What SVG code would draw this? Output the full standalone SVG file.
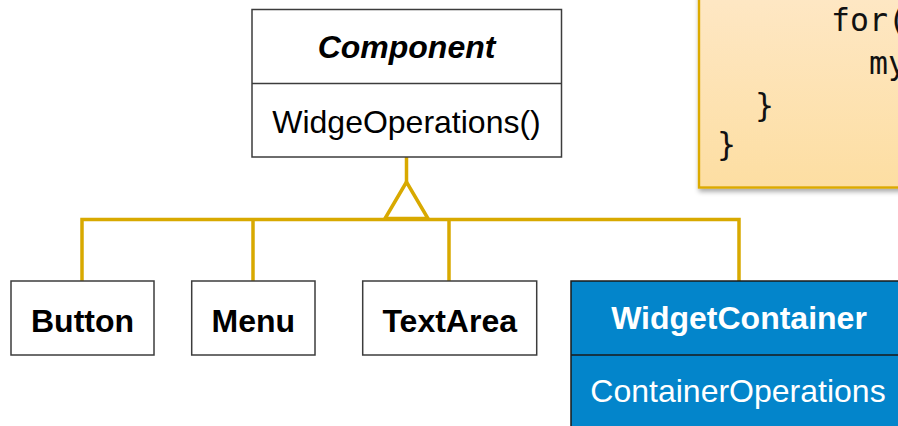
<svg xmlns="http://www.w3.org/2000/svg" width="898" height="426" viewBox="0 0 898 426">
  <style>
    .box { fill: #ffffff; stroke: #3c3c3c; stroke-width: 1.5; }
    .blue { fill: #0385cb; stroke: #1a1a1a; stroke-width: 1.5; }
    .lbl { font-family: "Liberation Sans", Arial, sans-serif; font-size: 32px; text-anchor: middle; fill: #000; }
    .b { font-weight: bold; }
    .w { fill: #ffffff; }
    .code { font-family: "DejaVu Sans Mono", monospace; font-size: 31.5px; fill: #111; }
    .conn { fill: none; stroke: #d8a900; stroke-width: 3.5; }
  </style>
  <defs>
    <linearGradient id="noteFill" x1="0" y1="0" x2="0" y2="1">
      <stop offset="0" stop-color="#fee8c7"/>
      <stop offset="1" stop-color="#fddea2"/>
    </linearGradient>
    <filter id="shadow" x="-10%" y="-10%" width="130%" height="140%">
      <feGaussianBlur in="SourceAlpha" stdDeviation="2.5"/>
      <feOffset dx="1" dy="3" result="b"/>
      <feComponentTransfer><feFuncA type="linear" slope="0.35"/></feComponentTransfer>
      <feMerge><feMergeNode/><feMergeNode in="SourceGraphic"/></feMerge>
    </filter>
  </defs>

  <!-- code note -->
  <g id="code-note">
    <rect x="699" y="-20" width="220" height="207.5" fill="url(#noteFill)" stroke="#dcaa00" stroke-width="2.4" filter="url(#shadow)"/>
    <text class="code" x="831" y="31">for(</text>
    <text class="code" x="869" y="74">my</text>
    <text class="code" x="755" y="116">}</text>
    <text class="code" x="717" y="155">}</text>
  </g>

  <!-- generalization connectors -->
  <g id="connectors">
    <path class="conn" d="M406.5 157 V182"/>
    <path class="conn" d="M82 281 V219.5 H739 V281"/>
    <path class="conn" d="M253 219.5 V281"/>
    <path class="conn" d="M449 219.5 V281"/>
    <polygon points="406.5,182 385,218.5 428,218.5" fill="#ffffff" stroke="#d8a900" stroke-width="3.5" stroke-linejoin="miter"/>
  </g>

  <g id="component">
    <rect class="box" x="252" y="9.5" width="309.5" height="147.5"/>
    <line x1="252" y1="83.5" x2="561.5" y2="83.5" stroke="#3c3c3c" stroke-width="1.5"/>
    <text class="lbl b" x="406.5" y="58" font-style="italic">Component</text>
    <text class="lbl" x="406.5" y="133">WidgeOperations()</text>
  </g>

  <g id="button">
    <rect class="box" x="11" y="281" width="143" height="74"/>
    <text class="lbl b" x="82.5" y="331.5">Button</text>
  </g>

  <g id="menu">
    <rect class="box" x="191.7" y="281" width="123.3" height="74"/>
    <text class="lbl b" x="253.3" y="331.5">Menu</text>
  </g>

  <g id="textarea">
    <rect class="box" x="362.7" y="281" width="174" height="74"/>
    <text class="lbl b" x="449.7" y="331.5">TextArea</text>
  </g>

  <g id="widget-container">
    <rect class="blue" x="571" y="281" width="340" height="160"/>
    <line x1="571" y1="355" x2="911" y2="355" stroke="#1a1a1a" stroke-width="1.5"/>
    <text class="lbl b w" x="739" y="329">WidgetContainer</text>
    <text class="lbl w" x="738" y="402">ContainerOperations</text>
  </g>
</svg>
